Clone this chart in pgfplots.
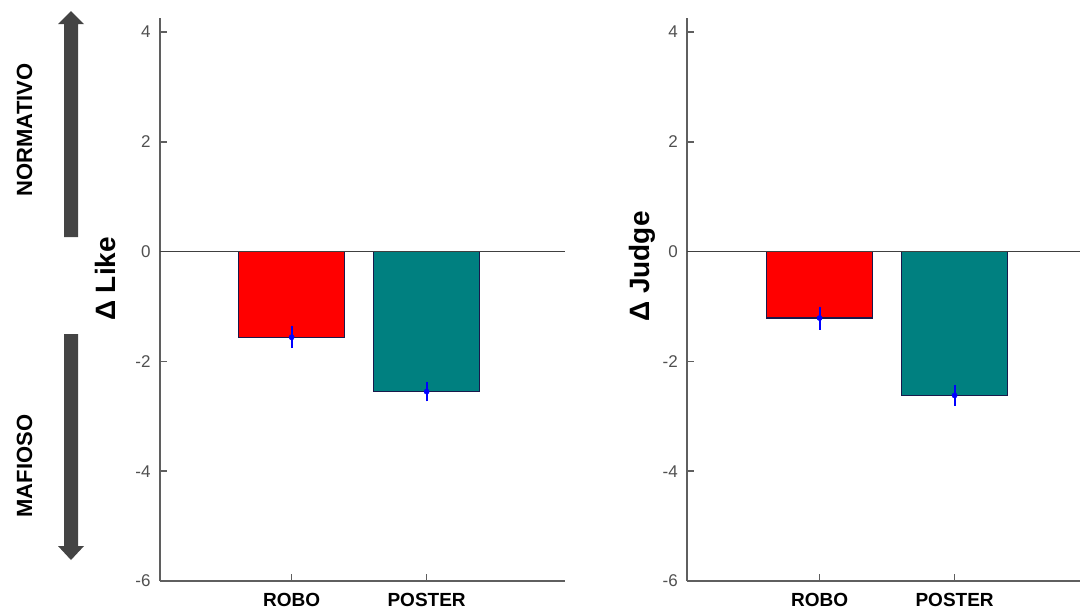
\documentclass[border=0pt]{standalone}
\usepackage{fontspec}
\setmainfont{Liberation Sans}
\usepackage{pgfplots}
\pgfplotsset{compat=1.18}
\definecolor{barred}{RGB}{255,0,0}
\definecolor{barteal}{RGB}{0,128,128}
\definecolor{edge}{RGB}{25,25,75}
\definecolor{axgray}{RGB}{95,95,95}
\definecolor{tickgray}{RGB}{80,80,80}
\definecolor{arrowgray}{RGB}{68,68,68}
\pgfplotsset{
  mystyle/.style={
    scale only axis, height=563pt, ymin=-6, ymax=4.255,
    axis x line*=bottom, axis y line*=left,
    axis line style={axgray, line width=2pt},
    ytick={-6,-4,-2,0,2,4},
    xtick={1,2}, xticklabels={ROBO,POSTER},
    tick style={axgray, line width=1.5pt}, major tick length=7pt,
    tick align=inside,
    yticklabel style={font=\fontsize{17}{20}\selectfont, text=tickgray, xshift=-6pt},
    xticklabel style={font=\bfseries\fontsize{19}{22}\selectfont, text=black, yshift=-9pt},
    /pgf/number format/assume math mode=true,
    clip=false,
    error bars/error bar style={blue, line width=1.8pt},
  },
  mybar/.style={ybar, bar width=106pt, bar shift=0pt, fill=#1, draw=edge, line width=1.3pt,
    mark=*, mark size=2.6pt, mark options={blue, fill=blue, line width=0.5pt}},
}
\begin{document}
\begin{tikzpicture}
\path[use as bounding box] (0,0) rectangle (1082pt,-614pt);
% left panel
\begin{axis}[mystyle, at={(160pt,-581pt)}, anchor=south west, width=405pt, xmin=0.025, xmax=3.025]
\addplot[mybar=barred,
  error bars/.cd, y dir=both, y explicit, error mark=none]
  coordinates {(1,-1.56) +- (0,0.2)};
\addplot[mybar=barteal,
  error bars/.cd, y dir=both, y explicit, error mark=none]
  coordinates {(2,-2.55) +- (0,0.18)};
\draw[line width=1.4pt, black!75] (axis cs:0.025,0) -- (axis cs:3.025,0);
\end{axis}
% right panel
\begin{axis}[mystyle, at={(687.3pt,-581pt)}, anchor=south west, width=392.85pt, xmin=0.02, xmax=2.93]
\addplot[mybar=barred,
  error bars/.cd, y dir=both, y explicit, error mark=none]
  coordinates {(1,-1.21) +- (0,0.21)};
\addplot[mybar=barteal,
  error bars/.cd, y dir=both, y explicit, error mark=none]
  coordinates {(2,-2.62) +- (0,0.19)};
\draw[line width=1.4pt, black!75] (axis cs:0.02,0) -- (axis cs:2.93,0);
\end{axis}
% annotations
\fill[arrowgray] (64pt,-237pt) -- (64pt,-24pt) -- (58pt,-24pt) -- (71pt,-11pt) -- (84pt,-24pt) -- (78pt,-24pt) -- (78pt,-237pt) -- cycle;
\fill[arrowgray] (64pt,-334pt) -- (64pt,-546pt) -- (58pt,-546pt) -- (71pt,-560pt) -- (84pt,-546pt) -- (78pt,-546pt) -- (78pt,-334pt) -- cycle;
\node[rotate=90, anchor=base, inner sep=0pt, font=\bfseries\fontsize{22}{24}\selectfont] at (32pt,-130pt) {NORMATIVO};
\node[rotate=90, anchor=base, inner sep=0pt, font=\bfseries\fontsize{22}{24}\selectfont] at (32pt,-466pt) {MAFIOSO};
\node[rotate=90, anchor=base, inner sep=0pt, font=\bfseries\fontsize{28}{30}\selectfont] at (115pt,-279pt) {Δ Like};
\node[rotate=90, anchor=base, inner sep=0pt, font=\bfseries\fontsize{28}{30}\selectfont] at (649pt,-266.5pt) {Δ Judge};
\end{tikzpicture}
\end{document}
